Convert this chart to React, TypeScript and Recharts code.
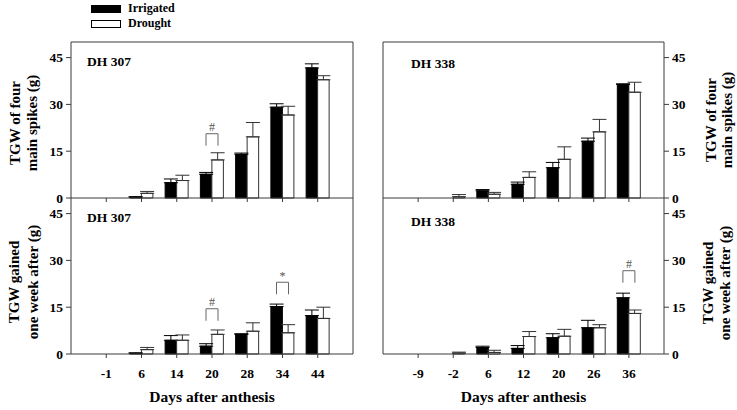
import React from 'react';
import { BarChart, Bar, XAxis, YAxis, ErrorBar, ReferenceDot, Legend } from 'recharts';

const catsLeft = ['-1', '6', '14', '20', '28', '34', '44'];
const catsRight = ['-9', '-2', '6', '12', '20', '26', '36'];
const yTicks = [0, 15, 30, 45];
const seriesNames = ['Irrigated', 'Drought'];

// DH 307 - TGW of four main spikes
const tlIrr = [0, 0.3, 4.9, 7.6, 14.0, 29.1, 41.7];
const tlIrrErr = [0, 0.1, 1.2, 0.6, 0.4, 1.1, 1.3];
const tlDro = [0, 1.5, 5.6, 12.2, 19.6, 26.6, 37.9];
const tlDroErr = [0, 0.6, 1.7, 2.3, 4.6, 2.8, 1.3];
const tlSigCats = ['20'];
const tlSigY = [20.6];
const tlSigSym = ['#'];

// DH 307 - TGW gained one week after
const blIrr = [0, 0.2, 4.4, 2.5, 6.3, 15.2, 12.3];
const blIrrErr = [0, 0.2, 1.5, 0.8, 0.2, 0.8, 1.8];
const blDro = [0, 1.4, 4.4, 6.3, 7.3, 6.8, 11.4];
const blDroErr = [0, 0.7, 1.7, 1.4, 2.7, 2.6, 3.6];
const blSigCats = ['20', '34'];
const blSigY = [14.5, 23.0];
const blSigSym = ['#', '*'];

// DH 338 - TGW of four main spikes
const trIrr = [0, 0, 2.3, 4.4, 9.7, 18.2, 36.4];
const trIrrErr = [0, 0, 0.4, 0.7, 1.7, 1.0, 0.2];
const trDro = [0, 0.4, 1.2, 6.6, 12.4, 21.2, 33.9];
const trDroErr = [0, 0.7, 0.6, 1.8, 4.0, 4.0, 3.2];
const trSigCats: string[] = [];
const trSigY: number[] = [];
const trSigSym: string[] = [];

// DH 338 - TGW gained one week after
const brIrr = [0, 0, 2.1, 1.8, 5.2, 8.4, 18.0];
const brIrrErr = [0, 0, 0.4, 0.9, 1.3, 2.4, 1.5];
const brDro = [0, 0.3, 0.5, 5.6, 5.7, 8.4, 13.0];
const brDroErr = [0, 0.3, 0.7, 1.6, 2.2, 1.0, 1.1];
const brSigCats = ['36'];
const brSigY = [26.7];
const brSigSym = ['#'];

const FONT = "'Liberation Serif', 'Times New Roman', serif";
const W = 737;
const H = 410;
const AXW = 40;
const LINE = '#3a3a3a';

type PanelProps = {
  cats: string[];
  irr: number[];
  irrErr: number[];
  dro: number[];
  droErr: number[];
  sigCats: string[];
  sigY: number[];
  sigSym: string[];
  plot: { x0: number; x1: number; y0: number; y1: number };
  side: 'left' | 'right';
  bottom: boolean;
  panelLabel: { text: string; x: number; y: number };
  title: { lines: [string, string]; xs: [number, number]; cy: number };
  legend?: boolean;
};

const LegendBox = (props: any) => {
  const payload = [...(props.payload || [])].sort(
    (a: any, b: any) => seriesNames.indexOf(a.value) - seriesNames.indexOf(b.value)
  );
  return (
    <div style={{ fontFamily: FONT, fontWeight: 'bold', fontSize: 12, color: '#000' }}>
      {payload.map((e: any) => (
        <div key={e.value} style={{ display: 'flex', alignItems: 'center', height: 15 }}>
          <span
            style={{
              display: 'inline-block',
              width: 28,
              height: 6,
              background: (e.payload && e.payload.fill) || e.color,
              border: '1px solid #000',
              marginRight: 7,
            }}
          />
          <span>{e.value}</span>
        </div>
      ))}
    </div>
  );
};

const Panel = (p: PanelProps) => {
  const data = p.cats.map((c, i) => ({
    cat: c,
    irr: p.irr[i],
    dro: p.dro[i],
    irrE: [0, p.irrErr[i]],
    droE: [0, p.droErr[i]],
  }));
  const bw = (p.plot.x1 - p.plot.x0) / 8;
  const XH = p.bottom ? H - p.plot.y1 : 30;
  const margin = {
    top: p.bottom ? p.plot.y0 : p.plot.y0 - 1,
    bottom: H - p.plot.y1 - XH,
    left: p.side === 'left' ? p.plot.x0 - AXW : p.plot.x0 - 1,
    right: p.side === 'left' ? W - p.plot.x1 - 1 : W - p.plot.x1 - AXW,
  };
  const tickFont = { fontSize: 13.5, fontWeight: 'bold', fill: '#000', fontFamily: FONT };

  const titleContent = () => (
    <g>
      {p.title.lines.map((ln, i) => (
        <text
          key={i}
          x={p.title.xs[i]}
          y={p.title.cy}
          transform={`rotate(-90 ${p.title.xs[i]} ${p.title.cy})`}
          textAnchor="middle"
          dominantBaseline="central"
          fontFamily={FONT}
          fontWeight="bold"
          fontSize={15}
          fill="#000"
        >
          {ln}
        </text>
      ))}
    </g>
  );

  const panelLabelContent = () => (
    <text
      x={p.panelLabel.x}
      y={p.panelLabel.y}
      fontFamily={FONT}
      fontWeight="bold"
      fontSize={13.5}
      fill="#000"
    >
      {p.panelLabel.text}
    </text>
  );

  const xLabelContent = () => (
    <text
      x={(p.plot.x0 + p.plot.x1) / 2}
      y={402}
      textAnchor="middle"
      fontFamily={FONT}
      fontWeight="bold"
      fontSize={15.5}
      fill="#000"
    >
      Days after anthesis
    </text>
  );

  const sigShape = (sym: string) => (props: any) => {
    const { cx, cy } = props;
    return (
      <g>
        <path
          d={`M${cx - 6},${cy + 12} V${cy} H${cx + 6} V${cy + 12}`}
          fill="none"
          stroke="#666"
          strokeWidth={1}
        />
        <text x={cx} y={cy - 2.5} textAnchor="middle" fontFamily={FONT} fontSize={12} fill="#555">
          {sym}
        </text>
      </g>
    );
  };

  return (
    <div style={{ position: 'absolute', left: 0, top: 0 }}>
      <BarChart width={W} height={H} data={data} margin={margin} barGap={0}>
        {p.legend && (
          <Legend
            layout="vertical"
            align="center"
            verticalAlign="middle"
            wrapperStyle={{ top: 1, left: 91, width: 200, height: 32 }}
            content={LegendBox}
          />
        )}
        <XAxis
          dataKey="cat"
          height={XH}
          padding={{ left: bw / 2, right: bw / 2 }}
          interval={0}
          tickSize={4}
          tickMargin={10}
          axisLine={{ stroke: LINE }}
          tickLine={{ stroke: LINE }}
          tick={tickFont}
          tickFormatter={p.bottom ? undefined : () => ''}
          label={p.bottom ? { content: xLabelContent } : undefined}
        />
        {!p.bottom && (
          <XAxis
            xAxisId="top"
            orientation="top"
            dataKey="cat"
            height={1}
            padding={{ left: bw / 2, right: bw / 2 }}
            tick={false}
            tickLine={false}
            axisLine={{ stroke: LINE }}
          />
        )}
        <YAxis
          orientation={p.side}
          domain={[0, 50]}
          ticks={yTicks}
          interval={0}
          width={AXW}
          tickSize={5}
          tickMargin={3}
          axisLine={{ stroke: LINE }}
          tickLine={{ stroke: LINE }}
          tick={tickFont}
          label={{ content: titleContent }}
        />
        <YAxis
          yAxisId="frame"
          orientation={p.side === 'left' ? 'right' : 'left'}
          domain={[0, 50]}
          width={1}
          tick={false}
          tickLine={false}
          axisLine={{ stroke: LINE }}
          label={{ content: panelLabelContent }}
        />
        <Bar dataKey="irr" name="Irrigated" fill="#000" stroke="#000" barSize={11.5} isAnimationActive={false}>
          <ErrorBar dataKey="irrE" width={7} stroke="#000" strokeWidth={1} />
        </Bar>
        <Bar dataKey="dro" name="Drought" fill="#fff" stroke="#333" barSize={11.5} isAnimationActive={false}>
          <ErrorBar dataKey="droE" width={7} stroke="#333" strokeWidth={1} />
        </Bar>
        {p.sigCats.map((c, i) => (
          <ReferenceDot
            key={c}
            x={c}
            y={p.sigY[i]}
            r={0}
            ifOverflow="visible"
            shape={sigShape(p.sigSym[i])}
          />
        ))}
      </BarChart>
    </div>
  );
};

export default function App() {
  return (
    <div style={{ position: 'absolute', left: 0, top: 0, width: W, height: H, background: '#fff' }}>
      <Panel
        cats={catsLeft}
        irr={tlIrr}
        irrErr={tlIrrErr}
        dro={tlDro}
        droErr={tlDroErr}
        sigCats={tlSigCats}
        sigY={tlSigY}
        sigSym={tlSigSym}
        plot={{ x0: 71, x1: 353, y0: 42, y1: 198 }}
        side="left"
        bottom={false}
        panelLabel={{ text: 'DH 307', x: 87, y: 66 }}
        title={{ lines: ['TGW of four', 'main spikes (g)'], xs: [15, 32], cy: 123 }}
        legend
      />
      <Panel
        cats={catsLeft}
        irr={blIrr}
        irrErr={blIrrErr}
        dro={blDro}
        droErr={blDroErr}
        sigCats={blSigCats}
        sigY={blSigY}
        sigSym={blSigSym}
        plot={{ x0: 71, x1: 353, y0: 198, y1: 354 }}
        side="left"
        bottom
        panelLabel={{ text: 'DH 307', x: 87, y: 222 }}
        title={{ lines: ['TGW gained', 'one week after (g)'], xs: [14, 33], cy: 282 }}
      />
      <Panel
        cats={catsRight}
        irr={trIrr}
        irrErr={trIrrErr}
        dro={trDro}
        droErr={trDroErr}
        sigCats={trSigCats}
        sigY={trSigY}
        sigSym={trSigSym}
        plot={{ x0: 383, x1: 664, y0: 42, y1: 198 }}
        side="right"
        bottom={false}
        panelLabel={{ text: 'DH 338', x: 411, y: 68 }}
        title={{ lines: ['TGW of four', 'main spikes (g)'], xs: [711, 727], cy: 120 }}
      />
      <Panel
        cats={catsRight}
        irr={brIrr}
        irrErr={brIrrErr}
        dro={brDro}
        droErr={brDroErr}
        sigCats={brSigCats}
        sigY={brSigY}
        sigSym={brSigSym}
        plot={{ x0: 383, x1: 664, y0: 198, y1: 354 }}
        side="right"
        bottom
        panelLabel={{ text: 'DH 338', x: 411, y: 226 }}
        title={{ lines: ['TGW gained', 'one week after (g)'], xs: [708, 725], cy: 283 }}
      />
    </div>
  );
}
